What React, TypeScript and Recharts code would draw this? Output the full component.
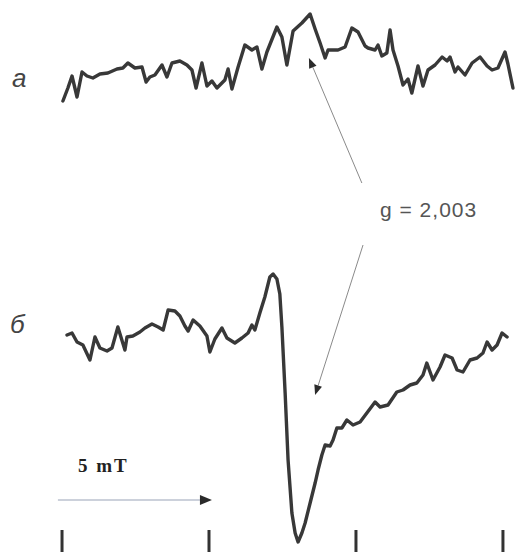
import { LineChart, Line, XAxis, YAxis, ReferenceLine } from 'recharts'

// magnetic field, mT (0 = first tick mark)
const fieldA = [
  0.03, 0.2, 0.34, 0.51, 0.68, 0.85, 1.05, 1.29, 1.56, 1.87, 2.07, 2.24, 2.48, 2.72, 2.86, 2.99,
  3.16, 3.4, 3.57, 3.74, 4.01, 4.25, 4.42, 4.56, 4.76, 4.93, 5.1, 5.27, 5.54, 5.65, 5.78, 5.99,
  6.22, 6.46, 6.63, 6.8, 6.97, 7.31, 7.48, 7.65, 7.86, 8.16, 8.44, 8.61, 8.78, 8.95, 9.05, 9.39,
  9.63, 9.86, 10.07, 10.31, 10.41, 10.65, 10.75, 10.88, 11.05, 11.16, 11.26, 11.43, 11.6, 11.77,
  11.9, 12.11, 12.28, 12.45, 12.69, 12.93, 13.1, 13.2, 13.37, 13.47, 13.71, 13.95, 14.22, 14.46,
  14.63, 14.83, 15.07, 15.17, 15.34,
]
// signal a, arb. units
const signalA = [
  -0.1, 1.2, 2.4, 0.3, 2.8, 2.4, 2.2, 2.6, 2.7, 3.1, 3.2, 3.7, 3.2, 3.3, 1.8, 2.3,
  2.5, 3.5, 2.3, 3.7, 3.9, 3.5, 3.0, 1.2, 3.7, 1.4, 1.9, 1.2, 2.0, 3.1, 1.1, 3.3,
  5.5, 5.0, 5.3, 3.1, 4.8, 7.3, 6.3, 3.5, 6.9, 7.7, 8.6, 7.1, 5.7, 4.2, 5.0, 5.0,
  5.3, 7.2, 6.8, 5.4, 5.2, 5.0, 5.5, 4.4, 4.7, 7.0, 5.0, 3.4, 1.5, 2.1,
  0.7, 3.4, 1.4, 3.0, 3.5, 4.3, 3.9, 4.3, 2.8, 3.3, 2.5, 3.7, 4.3, 3.4,
  3.0, 3.2, 4.8, 3.6, 1.2,
]

const fieldB = [
  0.17, 0.34, 0.51, 0.71, 0.95, 1.12, 1.29, 1.53, 1.7, 1.9, 2.14, 2.21, 2.41, 2.65, 2.82, 3.06,
  3.27, 3.44, 3.61, 3.84, 4.01, 4.18, 4.29, 4.46, 4.69, 4.93, 5.03, 5.2, 5.44, 5.61, 5.88, 6.12,
  6.33, 6.46, 6.56, 6.73, 6.9, 7.07, 7.18, 7.31, 7.41, 7.48, 7.59, 7.69, 7.82, 7.93, 8.03, 8.16,
  8.27, 8.44, 8.61, 8.71, 8.84, 8.95, 9.12, 9.22, 9.35, 9.52, 9.69, 9.9, 10.14, 10.37, 10.65,
  10.82, 11.09, 11.39, 11.6, 11.84, 12.07, 12.28, 12.41, 12.62, 12.86, 13.03, 13.27, 13.44,
  13.64, 13.88, 14.12, 14.32, 14.46, 14.63, 14.8, 14.97, 15.14,
]
// signal б, arb. units
const signalB = [
  6.5, 6.7, 5.8, 5.5, 4.0, 6.3, 5.2, 4.9, 5.2, 7.3, 5.0, 6.3, 6.4, 6.8, 7.2, 7.6,
  7.3, 7.0, 9.0, 8.9, 8.4, 7.4, 6.9, 8.0, 7.4, 6.4, 4.8, 6.1, 7.2, 6.2, 5.7, 6.2,
  6.7, 7.5, 7.0, 8.7, 10.3, 12.3, 12.6, 12.1, 10.6, 7.3, 0.7, -6.0, -11.3, -13.3, -14.2, -13.3,
  -12.3, -10.3, -8.3, -7.0, -5.5, -4.5, -4.6, -4.0, -2.8, -2.8, -2.0, -2.5, -2.2, -1.3, -0.2,
  -0.7, -0.5, 0.8, 1.0, 1.5, 1.7, 2.5, 3.7, 2.0, 3.3, 4.5, 4.2, 3.0,
  2.8, 4.0, 4.2, 4.7, 5.8, 5.0, 5.5, 6.7, 6.3,
]

const fieldTicks = [0, 5, 10, 15]

const traceA = fieldA.map((f, i) => ({ f, v: signalA[i] }))
const traceB = fieldB.map((f, i) => ({ f, v: signalB[i] }))

function Arrow({ x1, y1, x2, y2, color, head, half, width }: any) {
  const ang = Math.atan2(y2 - y1, x2 - x1)
  const bx = x2 - head * Math.cos(ang)
  const by = y2 - head * Math.sin(ang)
  const px = -Math.sin(ang) * half
  const py = Math.cos(ang) * half
  return (
    <g>
      <line x1={x1} y1={y1} x2={bx} y2={by} stroke={color} strokeWidth={width} />
      <polygon
        points={`${x2},${y2} ${bx + px},${by + py} ${bx - px},${by - py}`}
        fill="#2b2b2b"
      />
    </g>
  )
}

export default function App() {
  return (
    <div style={{ position: 'absolute', left: 0, top: 0, width: 515, height: 556, background: '#fff' }}>
      <LineChart width={515} height={556} margin={{ top: 0, right: 0, left: 0, bottom: 4 }}>
        <XAxis
          type="number"
          dataKey="f"
          domain={[-2.11, 15.41]}
          ticks={fieldTicks}
          mirror
          height={1}
          tickSize={22}
          axisLine={false}
          tickFormatter={() => ''}
          tickLine={{ stroke: '#333', strokeWidth: 3 }}
        />
        <YAxis yAxisId="a" type="number" domain={[-45.2, 10]} hide />
        <YAxis yAxisId="b" type="number" domain={[-15.2, 40]} hide />
        <Line
          yAxisId="a"
          data={traceA}
          dataKey="v"
          type="linear"
          stroke="#383838"
          strokeWidth={3.4}
          strokeLinejoin="round"
          strokeLinecap="round"
          dot={false}
          activeDot={false}
          isAnimationActive={false}
        />
        <Line
          yAxisId="b"
          data={traceB}
          dataKey="v"
          type="linear"
          stroke="#383838"
          strokeWidth={3.4}
          strokeLinejoin="round"
          strokeLinecap="round"
          dot={false}
          activeDot={false}
          isAnimationActive={false}
        />
        <ReferenceLine
          yAxisId="a"
          segment={[{ x: 10.2, y: -8.3 }, { x: 8.4, y: 4.2 }]}
          shape={(p: any) => <Arrow {...p} color="#8a8a8a" head={10} half={4} width={1} />}
        />
        <ReferenceLine
          yAxisId="b"
          segment={[{ x: 10.24, y: 15.5 }, { x: 8.61, y: 0.5 }]}
          shape={(p: any) => <Arrow {...p} color="#8a8a8a" head={10} half={4} width={1} />}
        />
        <ReferenceLine
          yAxisId="b"
          segment={[{ x: -0.14, y: -10 }, { x: 5.1, y: -10 }]}
          shape={(p: any) => <Arrow {...p} color="#9aa3b8" head={12} half={5} width={1.2} />}
        />
      </LineChart>
      <svg width={515} height={556} style={{ position: 'absolute', left: 0, top: 0, pointerEvents: 'none' }}>
        <text x={12} y={87} fontFamily="Liberation Sans, Arial, sans-serif" fontStyle="italic" fontSize={26} fill="#444">
          a
        </text>
        <text x={10} y={333} fontFamily="Liberation Sans, Arial, sans-serif" fontStyle="italic" fontSize={26} fill="#444">
          б
        </text>
        <text x={380} y={217} fontFamily="Liberation Sans, Arial, sans-serif" fontSize={21} fill="#555" letterSpacing={1}>
          g = 2,003
        </text>
        <text x={78} y={472} fontFamily="Liberation Serif, Times New Roman, serif" fontWeight="bold" fontSize={19} fill="#222" letterSpacing={2}>
          5 mT
        </text>
      </svg>
    </div>
  )
}
